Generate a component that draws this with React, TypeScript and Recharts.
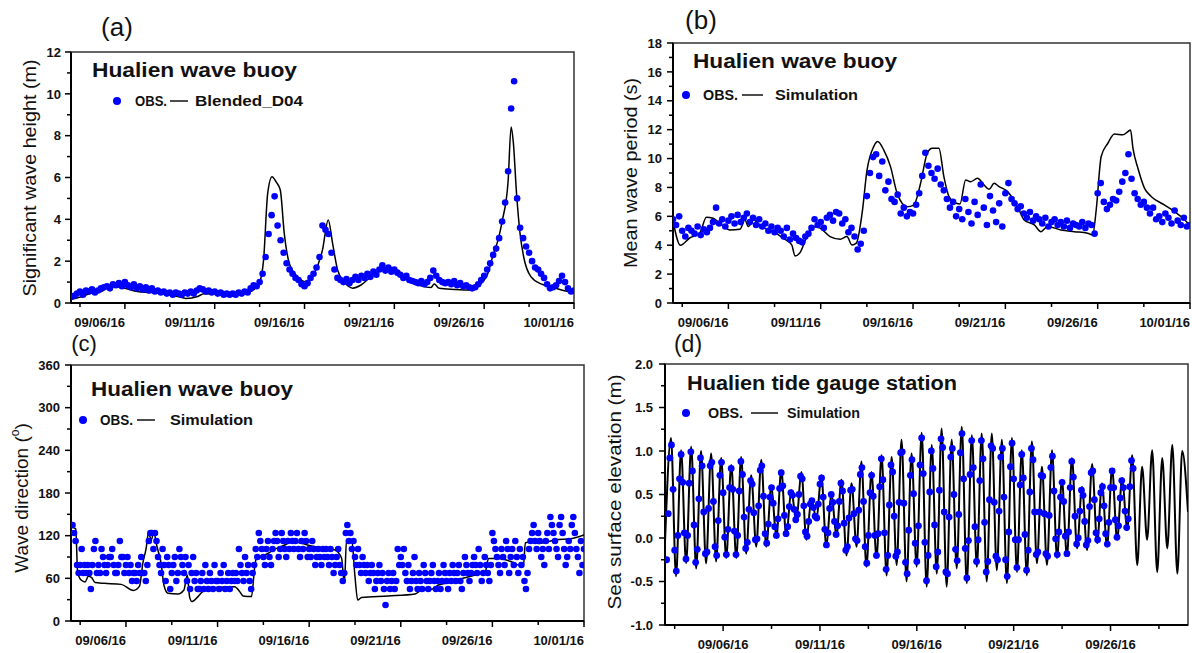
import React from 'react';
import {
  ComposedChart,
  Line,
  Scatter,
  XAxis,
  YAxis,
  ReferenceArea
} from 'recharts';

const FONT = '"Liberation Sans", Arial, Helvetica, sans-serif';
const BLUE = '#0000ff';

// x values are days of September 2016 (10/01/16 = 31)
const DATE_MAJOR = [6, 11, 16, 21, 26, 31];
const DATE_LABELS = ['09/06/16', '09/11/16', '09/16/16', '09/21/16', '09/26/16', '10/01/16'];
const DATE_MINOR = [3.5, 8.5, 13.5, 18.5, 23.5, 28.5];

const HEIGHT_TICKS = [0, 2, 4, 6, 8, 10, 12];
const HEIGHT_MINOR = [1, 3, 5, 7, 9, 11];
const PERIOD_TICKS = [0, 2, 4, 6, 8, 10, 12, 14, 16, 18];
const PERIOD_MINOR = [1, 3, 5, 7, 9, 11, 13, 15, 17];
const DIR_TICKS = [0, 60, 120, 180, 240, 300, 360];
const DIR_MINOR = [30, 90, 150, 210, 270, 330];
const SSE_TICKS = [-1, -0.5, 0, 0.5, 1, 1.5, 2];
const SSE_MINOR = [-0.75, -0.25, 0.25, 0.75, 1.25, 1.75];

// buoy records start 09/03 00:00: height & period every 4 h, direction every 2 h
const BUOY_START = 3;
const BUOY_STEP = 1 / 6;
const DIR_STEP = 1 / 12;
// tide gauge every 2 h from 09/03 02:00
const TIDE_START = 3 + 1 / 12;
const TIDE_STEP = 1 / 12;

// (a) significant wave height (m)
const WAVE_HEIGHT_OBS = [
  0.30, 0.35, 0.45, 0.55, 0.40, 0.60,
  0.55, 0.65, 0.50, 0.60, 0.70, 0.75,
  0.80, 0.70, 0.90, 0.85, 0.95, 0.80,
  1.00, 0.85, 0.75, 0.90, 0.70, 0.80,
  0.65, 0.75, 0.60, 0.70, 0.55, 0.60,
  0.50, 0.55, 0.45, 0.50, 0.40, 0.50,
  0.45, 0.40, 0.50, 0.45, 0.55, 0.45,
  0.60, 0.70, 0.65, 0.55, 0.60, 0.50,
  0.55, 0.45, 0.50, 0.40, 0.45, 0.40,
  0.45, 0.40, 0.50, 0.45, 0.55, 0.50,
  0.70, 0.85, 0.80, 1.00, 1.40, 2.20,
  3.30, 4.20, 5.10, 3.70, 3.00, 2.40,
  1.90, 1.60, 1.40, 1.20, 1.10, 0.90,
  0.80, 0.95, 1.20, 1.40, 1.70, 2.20,
  3.70, 3.50, 3.30, 2.40, 1.60, 1.20,
  1.10, 1.00, 1.15, 0.95, 1.10, 1.25,
  1.10, 1.30, 1.20, 1.40, 1.25, 1.50,
  1.35, 1.60, 1.80, 1.55, 1.70, 1.50,
  1.60, 1.45, 1.35, 1.20, 1.30, 1.10,
  1.05, 1.00, 0.95, 1.05, 0.90, 1.00,
  1.20, 1.55, 1.30, 1.10, 1.00, 0.95,
  1.00, 0.90, 1.05, 0.85, 0.95, 0.80,
  0.85, 0.75, 0.70, 0.75, 0.90, 1.10,
  1.30, 1.60, 1.90, 2.30, 2.60, 3.10,
  3.90, 4.80, 6.30, 9.30, 10.60, 5.00,
  3.60, 3.10, 2.70, 2.40, 2.00, 1.70,
  1.60, 1.40, 1.20, 0.90, 0.70, 0.75,
  0.85, 1.05, 1.30, 1.00, 0.70, 0.55,
  0.60
];
const WAVE_HEIGHT_SIM_DAYS = [
  3.0, 3.56, 4.1, 4.7, 5.04, 5.4, 5.97, 6.7, 7.45, 8.2, 8.94, 9.4, 10.05, 10.4, 10.98, 11.7,
  12.65, 13.1, 13.48, 13.72, 13.95, 14.19, 14.41, 14.65, 14.87, 15.15, 15.6, 16.08, 16.54, 17.0,
  17.32, 17.56, 17.84, 18.2, 18.68, 19.14, 19.7, 20.25, 20.72, 21.18, 21.74, 22.48, 23.04, 23.22,
  23.5, 24.33, 25.26, 25.63, 26.0, 26.15, 26.5, 26.8, 27.0, 27.33, 27.5, 27.62, 27.8, 28.0, 28.2,
  28.6, 29.2, 29.7, 30.46, 31.0
];
const WAVE_HEIGHT_SIM = [
  0.17, 0.30, 0.46, 0.55, 0.74, 0.78, 0.71, 0.55, 0.50, 0.42, 0.31, 0.22, 0.31, 0.44, 0.42, 0.39,
  0.44, 0.59, 0.94, 2.06, 5.25, 6.04, 5.8, 5.4, 3.34, 1.9, 1.26, 1.02, 1.42, 2.54,
  3.97, 2.86, 1.58, 1.02, 0.71, 0.86, 1.26, 1.58, 1.71, 1.50, 1.10, 0.82, 0.74, 0.91,
  0.70, 0.65, 0.62, 0.78, 1.1, 1.3, 2.3, 3.1, 3.9, 5.8, 8.42, 7.7, 5.25, 3.3, 2.2,
  1.26, 0.9, 0.78, 0.59, 0.50
];

// (b) mean wave period (s)
const WAVE_PERIOD_OBS = [
  5.8, 5.4, 6.0, 5.0, 4.6, 5.2,
  5.0, 4.8, 5.3, 4.7, 5.1, 4.9,
  5.2, 5.6, 6.6, 5.5, 5.8, 5.3,
  5.7, 6.0, 5.5, 6.1, 5.6, 5.9,
  6.2, 5.6, 5.9, 5.4, 5.8, 5.3,
  5.5, 5.0, 5.3, 4.9, 5.2, 5.0,
  4.6, 5.2, 4.4, 4.8, 4.5, 4.3,
  4.2, 4.6, 4.8, 5.2, 5.8, 5.4,
  5.6, 5.2, 5.9, 6.1, 5.7, 6.3,
  6.2, 5.5, 5.8, 4.9, 5.2, 4.6,
  3.7, 4.1, 5.0, 7.4, 9.0, 10.1,
  10.3, 8.8, 9.8, 7.8, 8.4, 7.2,
  7.0, 7.5, 6.2, 6.6, 6.0, 6.3,
  6.2, 6.8, 7.6, 8.8, 10.4, 9.5,
  9.0, 8.6, 9.3, 8.2, 7.8, 7.2,
  6.6, 7.0, 6.0, 6.5, 5.8, 7.2,
  6.3, 5.5, 7.0, 6.1, 8.2, 6.6,
  5.4, 7.4, 6.4, 5.6, 6.9, 5.3,
  7.6, 8.3, 7.2, 6.9, 6.5, 6.7,
  6.2, 5.9, 6.3, 5.7, 6.0, 5.8,
  5.5, 5.9, 5.3, 5.6, 5.8, 5.4,
  5.6, 5.3, 5.7, 5.2, 5.5, 5.4,
  5.3, 5.6, 5.2, 5.5, 5.4, 4.8,
  7.6, 8.3, 7.0, 6.5, 6.8, 7.2,
  7.1, 7.7, 8.4, 9.0, 10.3, 8.6,
  7.6, 7.2, 6.8, 7.0, 6.6, 6.2,
  6.6, 5.8, 6.0, 5.6, 6.2, 5.9,
  5.5, 6.4, 5.7, 5.4, 5.9, 5.3,
  5.4
];
const WAVE_PERIOD_SIM_DAYS = [
  3.0, 3.4, 3.9, 4.45, 4.81, 5.17, 5.63, 6.08, 6.62, 6.9, 7.08, 7.35, 7.8, 8.43, 8.98,
  9.43, 9.61, 9.88, 10.25, 10.6, 10.97, 11.51, 12.06, 12.42, 12.69, 12.93, 13.24, 13.51, 13.87, 14.09,
  14.41, 14.78, 15.14, 15.68, 16.04, 16.41, 16.77, 17.04, 17.4, 17.67, 17.95, 18.22, 18.54, 18.85, 19.12,
  19.49, 19.85, 20.12, 20.39, 20.66, 21.12, 21.66, 22.02, 22.57, 22.93, 23.29, 24.01, 24.74, 25.46, 25.73,
  25.92, 26.19, 26.55, 26.91, 27.37, 27.64, 27.78, 27.91, 28.18, 28.54, 28.91, 29.63, 30.17, 30.72, 31.0
];
const WAVE_PERIOD_SIM = [
  5.7, 4.0, 4.5, 4.85, 5.94, 5.87, 5.41, 5.06, 5.1, 5.75, 5.29, 5.75, 5.29, 4.94, 4.48,
  4.02, 3.26, 3.49, 4.6, 5.29, 5.18, 4.6, 4.41, 4.6, 4.02, 4.14, 6.2, 9.21, 10.83, 11.18,
  10.6, 9.44, 7.59, 6.67, 6.78, 8.29, 10.37, 10.72, 10.72, 8.75, 7.36, 7.0, 6.85, 8.52, 8.4,
  8.63, 8.17, 7.87, 8.29, 8.06, 7.71, 6.67, 5.75, 5.41, 4.94, 5.29, 5.06, 4.94, 4.83, 4.71,
  6.44, 10.14, 11.06, 11.7, 11.64, 11.87, 11.98, 10.72, 9.33, 7.94, 7.36, 6.78, 6.32, 5.75, 5.35
];

// (c) wave direction (deg), 32-point compass bins
const WAVE_DIR_OBS = [
  135, 135, 123.75, 112.5, 78.75, 67.5, 78.75, 101.25, 67.5, 78.75, 67.5, 78.75,
  67.5, 45, 78.75, 101.25, 112.5, 67.5, 78.75, 67.5, 101.25, 90, 78.75, 67.5,
  78.75, 90, 90, 101.25, 78.75, 67.5, 67.5, 78.75, 112.5, 90, 90, 67.5,
  78.75, 90, 67.5, 78.75, 56.25, 67.5, 67.5, 56.25, 78.75, 67.5, 90, 67.5,
  67.5, 56.25, 78.75, 112.5, 123.75, 123.75, 101.25, 123.75, 112.5, 90, 78.75, 67.5,
  101.25, 78.75, 56.25, 90, 78.75, 45, 67.5, 78.75, 90, 56.25, 67.5, 101.25,
  90, 78.75, 67.5, 90, 56.25, 78.75, 45, 67.5, 90, 56.25, 67.5, 45,
  45, 56.25, 67.5, 45, 78.75, 56.25, 45, 67.5, 56.25, 45, 78.75, 56.25,
  56.25, 45, 67.5, 56.25, 78.75, 45, 56.25, 67.5, 45, 56.25, 67.5, 56.25,
  67.5, 56.25, 101.25, 78.75, 67.5, 56.25, 90, 67.5, 78.75, 56.25, 45, 67.5,
  78.75, 101.25, 90, 123.75, 112.5, 101.25, 90, 78.75, 101.25, 112.5, 90, 78.75,
  101.25, 112.5, 123.75, 112.5, 90, 101.25, 123.75, 112.5, 101.25, 90, 112.5, 101.25,
  123.75, 112.5, 101.25, 112.5, 123.75, 101.25, 90, 112.5, 101.25, 123.75, 112.5, 90,
  101.25, 90, 112.5, 101.25, 78.75, 90, 101.25, 90, 78.75, 101.25, 90, 101.25,
  90, 78.75, 101.25, 90, 67.5, 78.75, 90, 101.25, 78.75, 67.5, 56.25, 67.5,
  123.75, 135, 112.5, 123.75, 101.25, 112.5, 90, 78.75, 101.25, 78.75, 67.5, 90,
  78.75, 67.5, 78.75, 56.25, 67.5, 78.75, 67.5, 45, 56.25, 67.5, 78.75, 56.25,
  67.5, 45, 22.5, 56.25, 67.5, 45, 56.25, 67.5, 45, 56.25, 101.25, 78.75,
  90, 78.75, 101.25, 67.5, 56.25, 78.75, 45, 56.25, 67.5, 90, 56.25, 45,
  67.5, 56.25, 45, 78.75, 67.5, 56.25, 45, 56.25, 67.5, 78.75, 56.25, 45,
  56.25, 67.5, 45, 56.25, 78.75, 67.5, 56.25, 45, 67.5, 56.25, 78.75, 67.5,
  56.25, 67.5, 78.75, 56.25, 45, 67.5, 90, 78.75, 67.5, 56.25, 67.5, 78.75,
  90, 78.75, 67.5, 101.25, 78.75, 56.25, 67.5, 90, 78.75, 67.5, 56.25, 78.75,
  123.75, 112.5, 101.25, 90, 78.75, 67.5, 101.25, 90, 78.75, 112.5, 101.25, 67.5,
  90, 101.25, 78.75, 112.5, 90, 67.5, 101.25, 78.75, 90, 56.25, 45, 67.5,
  101.25, 112.5, 123.75, 135, 112.5, 101.25, 123.75, 112.5, 90, 101.25, 78.75, 112.5,
  123.75, 101.25, 146.25, 135, 123.75, 112.5, 101.25, 90, 135, 146.25, 123.75, 101.25,
  78.75, 90, 112.5, 101.25, 135, 146.25, 123.75, 101.25, 90, 67.5, 112.5, 78.75,
  101.25
];
const WAVE_DIR_SIM_DAYS = [
  3.0, 3.26, 3.36, 3.55, 3.77, 3.95, 4.13, 4.31, 4.82, 5.74, 6.41, 6.74, 6.92, 7.1, 7.23,
  7.38, 7.52, 7.7, 7.92, 8.07, 8.29, 8.84, 9.16, 9.35, 9.47, 9.6, 9.93, 10.29, 11.02, 11.93,
  12.21, 12.39, 12.85, 13.03, 13.12, 13.58, 14.12, 14.67, 15.04, 15.58, 16.13, 16.86, 17.41, 17.77, 17.92,
  18.04, 18.17, 18.32, 18.5, 18.65, 18.86, 20.32, 21.78, 22.15, 22.69, 23.06, 23.6, 24.15, 25.06, 25.61,
  25.79, 26.34, 27.07, 27.53, 27.7, 27.8, 28.07, 28.53, 29.44, 30.35, 31.0
];
const WAVE_DIR_SIM = [
  132, 130, 69, 57.6, 55, 63, 61, 54, 53, 51.5, 43, 49, 81, 102, 124,
  114, 124, 104, 81, 50.6, 39, 38, 43.6, 64.6, 34.3, 27.3, 34.3, 43.6, 47.4, 48.3,
  41.3, 35.2, 34.3, 76.5, 88.2, 92.8, 100.8, 106.9, 111.6, 109.3, 105.5, 102.3, 99.9, 88.2, 53,
  114, 109.3, 114, 62.3, 29.5, 33.2, 35.2, 38, 43.6, 44.5, 50.6, 53.9, 58.6, 64.6, 69.3,
  88, 88, 83, 78, 80, 110, 111, 109, 114, 116, 121
];

// (d) sea surface elevation (m)
const TIDE_OBS = [
  -0.25, 0.28, 0.92, 1.07, 0.56, -0.14, -0.38, 0.03, 0.68, 0.96,
  0.64, 0.06, -0.24, 0.03, 0.63, 0.99, 0.77, 0.15, -0.28, -0.13,
  0.45, 0.92, 0.83, 0.30, -0.18, -0.16, 0.34, 0.83, 0.87, 0.42,
  -0.10, -0.20, 0.20, 0.72, 0.87, 0.52, 0.01, -0.19, 0.10, 0.58,
  0.80, 0.56, 0.08, -0.19, 0.03, 0.54, 0.88, 0.73, 0.24, -0.12,
  -0.05, 0.33, 0.66, 0.62, 0.29, -0.02, -0.01, 0.37, 0.78, 0.83,
  0.48, 0.05, -0.06, 0.16, 0.47, 0.58, 0.40, 0.13, 0.03, 0.22,
  0.57, 0.75, 0.60, 0.26, 0.05, 0.13, 0.36, 0.52, 0.49, 0.33,
  0.21, 0.27, 0.50, 0.71, 0.68, 0.37, 0.07, 0.02, 0.19, 0.39,
  0.43, 0.35, 0.25, 0.23, 0.39, 0.62, 0.69, 0.47, 0.10, -0.08,
  0.06, 0.34, 0.50, 0.41, 0.19, 0.04, 0.14, 0.42, 0.63, 0.54,
  0.17, -0.14, -0.10, 0.23, 0.55, 0.56, 0.28, -0.01, -0.03, 0.32,
  0.73, 0.81, 0.42, -0.10, -0.29, 0.03, 0.52, 0.72, 0.48, 0.03,
  -0.20, 0.05, 0.59, 0.91, 0.67, 0.06, -0.36, -0.20, 0.38, 0.84,
  0.76, 0.25, -0.21, -0.16, 0.41, 0.98, 0.99, 0.40, -0.28, -0.41,
  0.09, 0.72, 0.90, 0.51, -0.06, -0.27, 0.14, 0.84, 1.15, 0.74,
  -0.05, -0.49, -0.20, 0.53, 1.00, 0.80, 0.15, -0.33, -0.16, 0.55,
  1.14, 1.04, 0.30, -0.39, -0.41, 0.24, 0.93, 1.03, 0.50, -0.13,
  -0.26, 0.27, 0.98, 1.20, 0.68, -0.12, -0.46, -0.03, 0.73, 1.12,
  0.81, 0.13, -0.27, -0.02, 0.66, 1.12, 0.91, 0.18, -0.39, -0.27,
  0.44, 1.06, 1.03, 0.41, -0.21, -0.25, 0.31, 0.93, 1.03, 0.47,
  -0.25, -0.44, 0.07, 0.82, 1.09, 0.68, -0.02, -0.34, -0.02, 0.61,
  0.96, 0.69, 0.04, -0.37, -0.14, 0.53, 1.03, 0.90, 0.30, -0.19,
  -0.16, 0.30, 0.72, 0.71, 0.28, -0.18, -0.21, 0.26, 0.81, 0.94,
  0.54, -0.01, -0.19, 0.07, 0.47, 0.64, 0.42, 0.02, -0.18, 0.07,
  0.58, 0.88, 0.70, 0.25, -0.07, 0.00, 0.31, 0.55, 0.49, 0.19,
  -0.08, -0.03, 0.36, 0.75, 0.77, 0.44, 0.06, -0.02, 0.22, 0.52,
  0.59, 0.37, 0.05, -0.07, 0.18, 0.58, 0.77, 0.58, 0.21, 0.01,
  0.14, 0.46, 0.66, 0.58, 0.31, 0.12, 0.22, 0.59, 0.89, 0.80
];
// simulated high and low waters (day, m)
const TIDE_SIM_DAYS = [
  3.0, 3.31, 3.57, 3.83, 4.09, 4.35, 4.61, 4.86, 5.12, 5.38, 5.64, 5.90, 6.16, 6.42, 6.68,
  6.93, 7.19, 7.45, 7.71, 7.97, 8.23, 8.49, 8.75, 9.00, 9.26, 9.52, 9.78, 10.04, 10.30, 10.56,
  10.82, 11.07, 11.33, 11.59, 11.85, 12.11, 12.37, 12.63, 12.89, 13.14, 13.40, 13.66, 13.92, 14.18, 14.44,
  14.70, 14.96, 15.21, 15.47, 15.73, 15.99, 16.25, 16.51, 16.77, 17.03, 17.28, 17.54, 17.80, 18.06, 18.32,
  18.58, 18.84, 19.10, 19.35, 19.61, 19.87, 20.13, 20.39, 20.65, 20.91, 21.17, 21.42, 21.68, 21.94, 22.20,
  22.46, 22.72, 22.98, 23.24, 23.49, 23.75, 24.01, 24.27, 24.53, 24.79, 25.05, 25.31, 25.56, 25.82, 26.08,
  26.34, 26.60, 26.86, 27.12, 27.38, 27.63, 27.89, 28.15, 28.41, 28.67, 28.93, 29.19, 29.45, 29.70, 30.0
];
const TIDE_SIM = [
  -0.05, 1.15, -0.44, 1.01, -0.29, 1.05, -0.35, 1.0, -0.29, 0.97, -0.27, 0.92, -0.23, 0.84, -0.23,
  0.93, -0.18, 0.72, -0.1, 0.9, -0.1, 0.6, 0.0, 0.78, 0.02, 0.55, 0.19, 0.76, -0.02, 0.45,
  0.21, 0.72, -0.1, 0.52, 0.02, 0.67, -0.2, 0.63, -0.1, 0.88, -0.33, 0.76, -0.23, 0.95, -0.43,
  0.93, -0.31, 1.13, -0.5, 0.97, -0.33, 1.21, -0.56, 1.07, -0.41, 1.26, -0.56, 1.13, -0.35, 1.28,
  -0.52, 1.18, -0.33, 1.2, -0.5, 1.2, -0.37, 1.13, -0.52, 1.15, -0.39, 1.01, -0.43, 1.11, -0.29,
  0.82, -0.31, 1.01, -0.23, 0.67, -0.21, 0.92, -0.12, 0.59, -0.14, 0.85, -0.06, 0.63, -0.1, 0.8,
  -0.02, 0.69, 0.09, 0.95, -0.31, 0.82, -0.02, 1.01, -0.39, 0.92, -0.12, 1.07, -0.41, 1.0, 0.3
];

type Pt = { t: number; v: number };
const sampled = (start: number, step: number, vals: number[]): Pt[] =>
  vals.map((v, i) => ({ t: start + i * step, v }));
const paired = (days: number[], vals: number[]): Pt[] =>
  vals.map((v, i) => ({ t: days[i], v }));

function dateTick(centered: boolean) {
  return (p: any) => {
    const i = DATE_MAJOR.indexOf(p.payload.value);
    return (
      <g>
        <line x1={p.x} y1={p.y} x2={p.x} y2={p.y + (i >= 0 ? 6 : 4)} stroke="#000" strokeWidth={1.5} />
        {i >= 0 && (
          <text
            x={p.x}
            y={p.y + 24}
            textAnchor={centered ? 'middle' : 'end'}
            fontFamily={FONT}
            fontSize={13}
            fontWeight="bold"
            fill="#111"
          >
            {DATE_LABELS[i]}
          </text>
        )}
      </g>
    );
  };
}

function valueTick(major: number[], fmt: (v: number) => string, gap: number) {
  return (p: any) => {
    const v = p.payload.value;
    const isMajor = major.includes(v);
    return (
      <g>
        <line x1={p.x} y1={p.y} x2={p.x - (isMajor ? 6 : 4)} y2={p.y} stroke="#000" strokeWidth={1.5} />
        {isMajor && (
          <text
            x={p.x - gap}
            y={p.y}
            dy="0.36em"
            textAnchor="end"
            fontFamily={FONT}
            fontSize={13}
            fontWeight="bold"
            fill="#111"
          >
            {fmt(v)}
          </text>
        )}
      </g>
    );
  };
}

type PanelProps = {
  left: number;
  top: number;
  width: number;
  height: number;
  marginTop: number;
  marginRight: number;
  yWidth: number;
  xHeight: number;
  xDomain: [number, number];
  xTicks: number[];
  centeredDates?: boolean;
  yDomain: [number, number];
  yMajor: number[];
  yMinor: number[];
  yFmt: (v: number) => string;
  yGap: number;
  obs: Pt[];
  sim: Pt[];
  dotR: number;
  lineW: number;
  dotsOnTop?: boolean;
};

function Panel(props: PanelProps) {
  const yTicks = [...props.yMajor, ...props.yMinor].sort((a, b) => a - b);
  const dots = (
    <Scatter
      key="obs"
      data={props.obs}
      dataKey="v"
      fill={BLUE}
      isAnimationActive={false}
      shape={(s: any) => <circle cx={s.cx} cy={s.cy} r={props.dotR} fill={BLUE} />}
    />
  );
  const line = (
    <Line
      key="sim"
      data={props.sim}
      dataKey="v"
      type="monotone"
      stroke="#000"
      strokeWidth={props.lineW}
      dot={false}
      activeDot={false}
      isAnimationActive={false}
    />
  );
  return (
    <div style={{ position: 'absolute', left: props.left, top: props.top }}>
      <ComposedChart
        width={props.width}
        height={props.height}
        margin={{ top: props.marginTop, right: props.marginRight, bottom: 0, left: 0 }}
      >
        <XAxis
          type="number"
          dataKey="t"
          domain={props.xDomain}
          ticks={props.xTicks}
          interval={0}
          allowDataOverflow
          height={props.xHeight}
          tickSize={0}
          tickMargin={0}
          tickLine={false}
          axisLine={{ stroke: '#000', strokeWidth: 2 }}
          tick={dateTick(!!props.centeredDates)}
        />
        <YAxis
          type="number"
          dataKey="v"
          domain={props.yDomain}
          ticks={yTicks}
          interval={0}
          allowDataOverflow
          width={props.yWidth}
          tickSize={0}
          tickMargin={0}
          tickLine={false}
          axisLine={{ stroke: '#000', strokeWidth: 2 }}
          tick={valueTick(props.yMajor, props.yFmt, props.yGap)}
        />
        <ReferenceArea
          x1={props.xDomain[0]}
          x2={props.xDomain[1]}
          y1={props.yDomain[0]}
          y2={props.yDomain[1]}
          fill="none"
          stroke="#333"
          strokeWidth={1.5}
        />
        {props.dotsOnTop ? [line, dots] : [dots, line]}
      </ComposedChart>
    </div>
  );
}

function Texts() {
  const bold = { fontFamily: FONT, fontWeight: 'bold' as const, fill: '#111' };
  const plain = { fontFamily: FONT, fill: '#111' };
  const legend = (
    dx: number, dy: number, obsX: number, obsLen: number,
    l1: number, l2: number, simX: number, name: string, len: number
  ) => (
    <g>
      <circle cx={dx} cy={dy} r={4} fill={BLUE} />
      <text x={obsX} y={dy + 5} fontSize={14} textLength={obsLen} lengthAdjust="spacingAndGlyphs" {...bold}>OBS.</text>
      <line x1={l1} y1={dy} x2={l2} y2={dy} stroke="#111" strokeWidth={1.5} />
      <text x={simX} y={dy + 5} fontSize={14} textLength={len} lengthAdjust="spacingAndGlyphs" {...bold}>{name}</text>
    </g>
  );
  const yTitle = (cx: number, cy: number, len: number, label: string) => (
    <text
      x={cx}
      y={cy}
      transform={`rotate(-90 ${cx} ${cy})`}
      textAnchor="middle"
      dominantBaseline="central"
      fontSize={18}
      textLength={len}
      lengthAdjust="spacingAndGlyphs"
      {...plain}
    >
      {label}
    </text>
  );
  return (
    <svg
      width={1192}
      height={653}
      style={{ position: 'absolute', left: 0, top: 0, pointerEvents: 'none' }}
    >
      <text x={117} y={36} textAnchor="middle" fontSize={26} {...plain}>(a)</text>
      <text x={701} y={29} textAnchor="middle" fontSize={26} {...plain}>(b)</text>
      <text x={84} y={351} textAnchor="middle" fontSize={22} {...plain}>(c)</text>
      <text x={688} y={352} textAnchor="middle" fontSize={23} {...plain}>(d)</text>

      <text x={92} y={77} fontSize={20} textLength={205} lengthAdjust="spacingAndGlyphs" {...bold}>Hualien wave buoy</text>
      <text x={693} y={68} fontSize={20} textLength={204} lengthAdjust="spacingAndGlyphs" {...bold}>Hualien wave buoy</text>
      <text x={91} y={396} fontSize={20} textLength={202} lengthAdjust="spacingAndGlyphs" {...bold}>Hualien wave buoy</text>
      <text x={687} y={390} fontSize={20} textLength={270} lengthAdjust="spacingAndGlyphs" {...bold}>Hualien tide gauge station</text>

      {legend(117, 101, 135, 32, 170, 188, 195, 'Blended_D04', 108)}
      {legend(686, 95, 703, 35, 742, 763, 775, 'Simulation', 83)}
      {legend(83, 420, 100, 33, 137, 155, 170, 'Simulation', 83)}
      {legend(686, 413, 708, 35, 751, 778, 787, 'Simulation', 73)}

      {yTitle(30, 178, 237, 'Significant wave height (m)')}
      {yTitle(631, 173, 190, 'Mean wave period (s)')}
      <text
        x={21}
        y={498}
        transform="rotate(-90 21 498)"
        textAnchor="middle"
        dominantBaseline="central"
        fontSize={19}
        {...plain}
      >
        Wave direction (<tspan fontSize={12} dy={-6}>o</tspan><tspan dy={6}>)</tspan>
      </text>
      {yTitle(615, 492, 235, 'Sea surface elevation (m)')}
    </svg>
  );
}

const heightObs = sampled(BUOY_START, BUOY_STEP, WAVE_HEIGHT_OBS);
const heightSim = paired(WAVE_HEIGHT_SIM_DAYS, WAVE_HEIGHT_SIM);
const periodObs = sampled(BUOY_START, BUOY_STEP, WAVE_PERIOD_OBS);
const periodSim = paired(WAVE_PERIOD_SIM_DAYS, WAVE_PERIOD_SIM);
const dirObs = sampled(BUOY_START, DIR_STEP, WAVE_DIR_OBS);
const dirSim = paired(WAVE_DIR_SIM_DAYS, WAVE_DIR_SIM);
const tideObs = sampled(TIDE_START, TIDE_STEP, TIDE_OBS);
const tideSim = paired(TIDE_SIM_DAYS, TIDE_SIM);

const buoyTicks = [...DATE_MINOR, ...DATE_MAJOR].sort((a, b) => a - b);
const tideTicks = [...DATE_MINOR, ...DATE_MAJOR.slice(0, 5)].sort((a, b) => a - b);

export default function App() {
  return (
    <div
      style={{
        position: 'absolute',
        left: 0,
        top: 0,
        width: 1192,
        height: 653,
        background: '#fff',
        overflow: 'hidden'
      }}
    >
      <Panel
        left={0} top={0} width={600} height={330}
        marginTop={52} marginRight={26} yWidth={71} xHeight={27}
        xDomain={[3, 31]} xTicks={buoyTicks}
        yDomain={[0, 12]} yMajor={HEIGHT_TICKS} yMinor={HEIGHT_MINOR}
        yFmt={(v) => String(v)} yGap={10}
        obs={heightObs} sim={heightSim} dotR={3.3} lineW={1.5}
      />
      <Panel
        left={600} top={0} width={592} height={330}
        marginTop={43} marginRight={2} yWidth={73} xHeight={27}
        xDomain={[3, 31]} xTicks={buoyTicks}
        yDomain={[0, 18]} yMajor={PERIOD_TICKS} yMinor={PERIOD_MINOR}
        yFmt={(v) => String(v)} yGap={11}
        obs={periodObs} sim={periodSim} dotR={3.3} lineW={1.5}
      />
      <Panel
        left={0} top={330} width={600} height={323}
        marginTop={35} marginRight={16} yWidth={71} xHeight={32}
        xDomain={[3, 31]} xTicks={buoyTicks}
        yDomain={[0, 360]} yMajor={DIR_TICKS} yMinor={DIR_MINOR}
        yFmt={(v) => String(v)} yGap={11}
        obs={dirObs} sim={dirSim} dotR={3.3} lineW={1.5}
      />
      <Panel
        left={600} top={330} width={592} height={323}
        marginTop={34} marginRight={4} yWidth={65} xHeight={28}
        xDomain={[3, 30]} xTicks={tideTicks} centeredDates
        yDomain={[-1, 2]} yMajor={SSE_TICKS} yMinor={SSE_MINOR}
        yFmt={(v) => v.toFixed(1)} yGap={12}
        obs={tideObs} sim={tideSim} dotR={3.4} lineW={2} dotsOnTop
      />
      <Texts />
    </div>
  );
}
